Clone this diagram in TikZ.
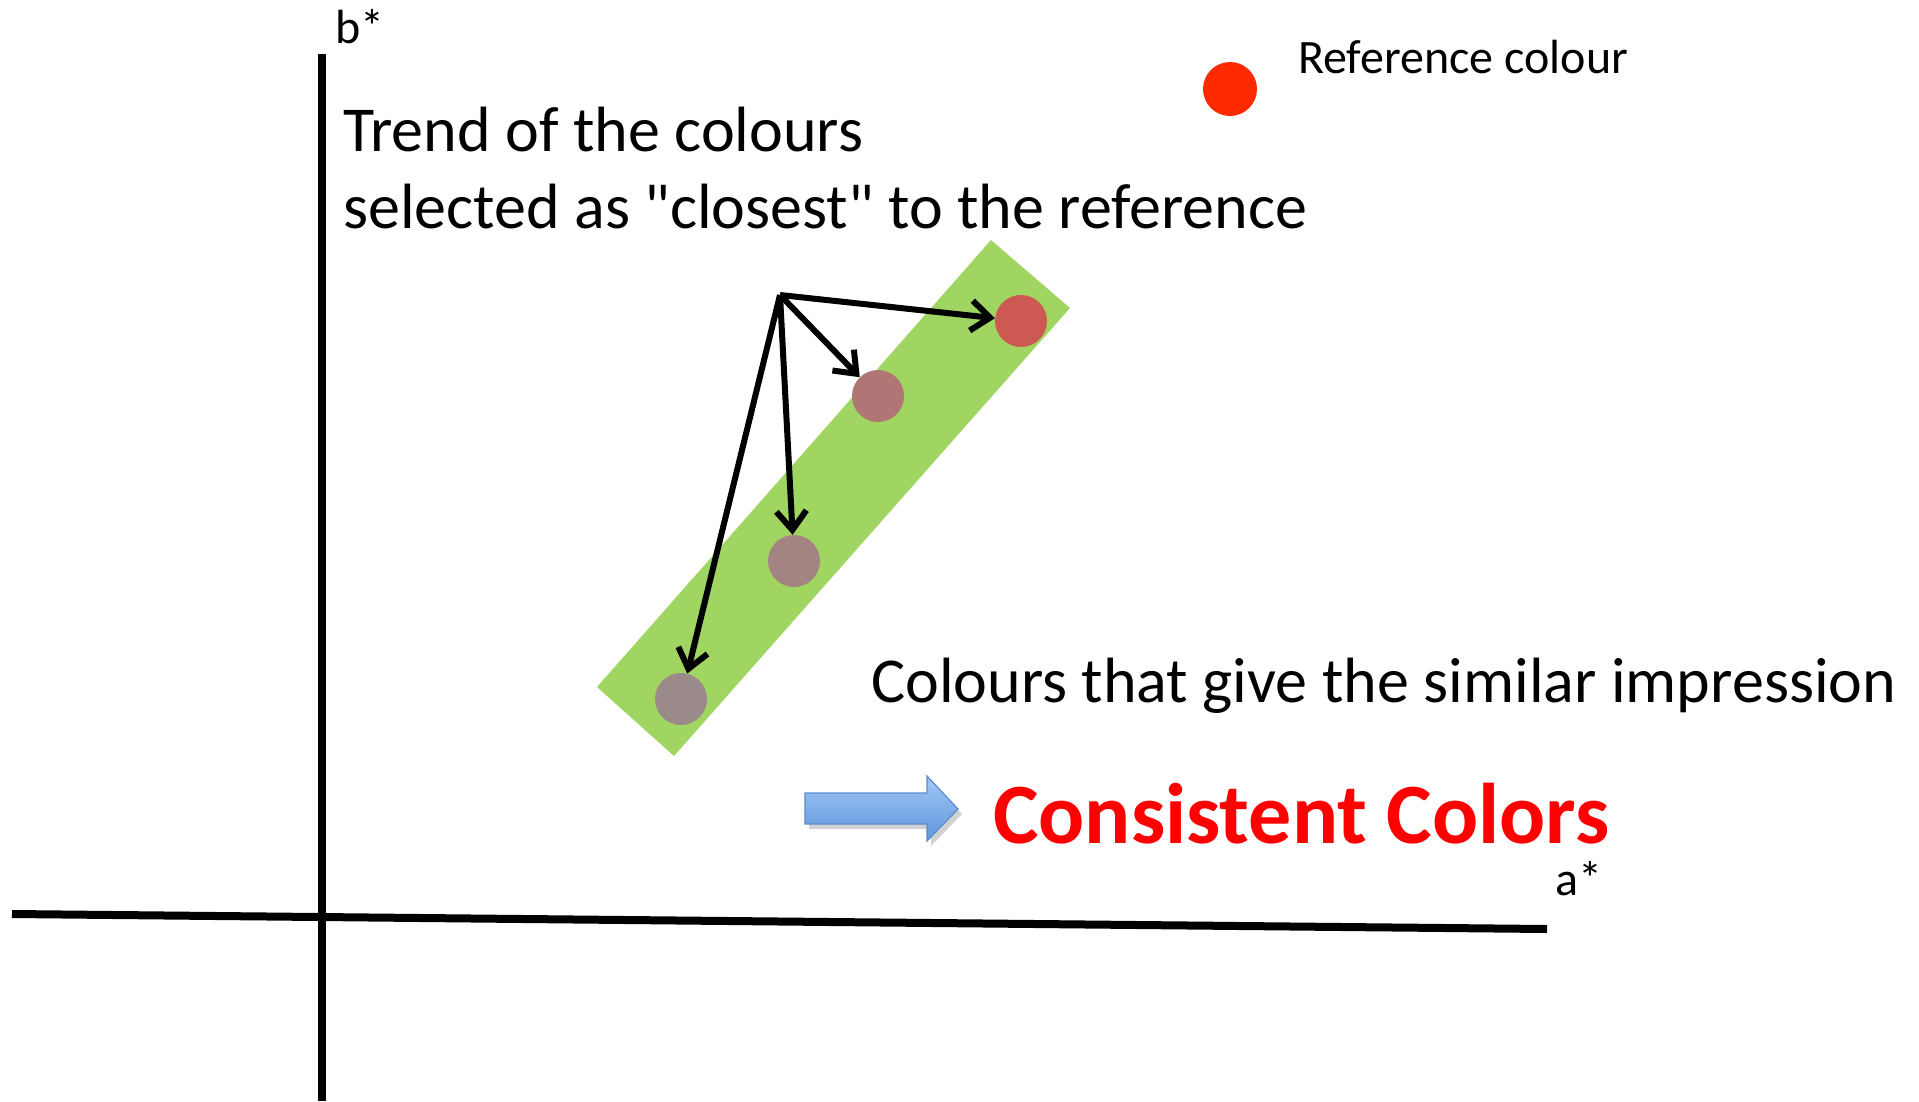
\documentclass[tikz,border=0pt]{standalone}
\usepackage{fontspec}
\setmainfont{Carlito}
\usetikzlibrary{arrows.meta, shapes.geometric}

\definecolor{bandgreen}{HTML}{A0D562}
\definecolor{refred}{HTML}{FF2A00}
\definecolor{dotone}{HTML}{CD5953}
\definecolor{dottwo}{HTML}{B07676}
\definecolor{dotthree}{HTML}{A38482}
\definecolor{dotfour}{HTML}{9A8A8A}
\definecolor{arrowtop}{HTML}{A2C8F7}
\definecolor{arrowbot}{HTML}{5E95DB}
\definecolor{arrowline}{HTML}{5B8CCB}

\begin{document}
\begin{tikzpicture}[x=1pt, y=-1pt, >={Straight Barb[length=19pt, width=30pt]},
  lbl/.style={font=\fontsize{64}{77}\selectfont, inner sep=0pt, anchor=base west},
  small/.style={font=\fontsize{48}{58}\selectfont, inner sep=0pt, anchor=base west},
  dot/.style={circle, minimum size=52pt, inner sep=0pt}]

  \useasboundingbox (0,0) rectangle (1919,1101);

  % 1. axes
  \draw[line width=8pt] (322,54) -- (322,1101);
  \draw[line width=8pt] (12,914) -- (1547,929);
  \node[small] (blabel) at (335,43) {b*};
  \node[small] (alabel) at (1555,895) {a*};

  % 2. band of similar colours
  \fill[bandgreen] (991,240) -- (1070,308) -- (674,756) -- (597,687) -- cycle;

  % 3. selected colours
  \node[dot, fill=dotone]   (d1) at (1021,321) {};
  \node[dot, fill=dottwo]   (d2) at (878,396) {};
  \node[dot, fill=dotthree] (d3) at (794,561) {};
  \node[dot, fill=dotfour]  (d4) at (681,699) {};

  % 4. arrows from the common start
  \coordinate (src) at (780,295);
  \foreach \d in {d1,d2,d3,d4}
    \draw[->, line width=6pt] (src) -- (\d);

  % 5. reference colour
  \fill[refred] (1230,89) circle (27pt);
  \coordinate (refdot) at (1230,89);
  \node[small] (reflabel) at (1298,73) {Reference colour};

  % 6. texts
  \node[lbl] (trend)  at (343,151) {Trend of the colours};
  \node[lbl] (trendb) at (343,228) {selected as \textquotedbl closest\textquotedbl{} to the reference};
  \node[lbl] (similar) at (871,702) {Colours that give the similar impression};

  % 7. blue arrow and result
  \fill[black, opacity=0.18] (809,798) -- (931,798) -- (931,781) -- (962,814)
    -- (931,846) -- (931,829) -- (809,829) -- cycle;
  \shadedraw[top color=arrowtop, bottom color=arrowbot, draw=arrowline, line width=1.2pt]
    (805,793) -- (927,793) -- (927,776) -- (958,809) -- (927,841) -- (927,824)
    -- (805,824) -- cycle;
  \node[font=\fontsize{86}{86}\selectfont\bfseries, text=red, inner sep=0pt,
    anchor=base west] (result) at (993,843) {Consistent Colors};

\end{tikzpicture}
\end{document}
